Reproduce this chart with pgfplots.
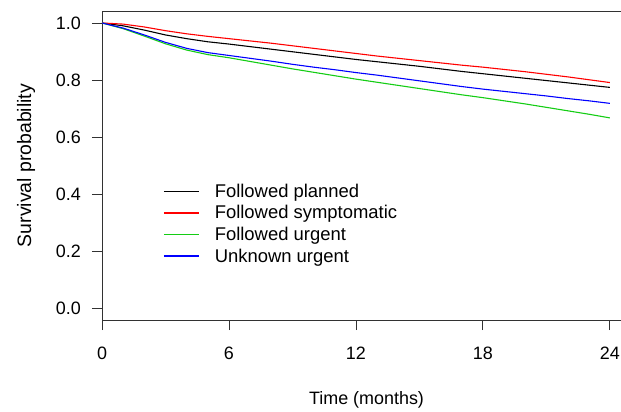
\documentclass[border=0pt]{standalone}
\usepackage{fontspec}
\setmainfont{Liberation Sans}
\usepackage{pgfplots}
\pgfplotsset{compat=1.18}
\usetikzlibrary{calc}
\definecolor{kmred}{RGB}{255,0,0}
\definecolor{kmgreen}{RGB}{20,205,20}
\definecolor{kmblue}{RGB}{0,0,255}
\definecolor{axisgray}{RGB}{50,50,50}

% Kaplan-Meier estimates, monthly
\pgfplotstableread{
t   planned symptomatic urgent unknown
0   1.000   1.000   1.000   1.000
1   0.990   0.996   0.980   0.982
2   0.975   0.986   0.954   0.958
3   0.958   0.973   0.927   0.932
4   0.945   0.962   0.905   0.911
5   0.934   0.953   0.889   0.896
6   0.926   0.945   0.878   0.886
7   0.917   0.937   0.865   0.876
8   0.908   0.929   0.852   0.866
9   0.899   0.920   0.839   0.855
10  0.890   0.911   0.827   0.845
11  0.881   0.902   0.815   0.836
12  0.872   0.893   0.803   0.826
13  0.864   0.884   0.792   0.817
14  0.856   0.876   0.781   0.807
15  0.848   0.868   0.770   0.797
16  0.839   0.860   0.759   0.787
17  0.830   0.852   0.748   0.777
18  0.822   0.845   0.738   0.768
19  0.814   0.837   0.727   0.760
20  0.806   0.829   0.716   0.752
21  0.798   0.820   0.704   0.744
22  0.790   0.811   0.692   0.735
23  0.782   0.801   0.680   0.727
24  0.774   0.791   0.667   0.718
}\kmdata

\begin{document}
\begin{tikzpicture}
\begin{axis}[
    name=ax,
    scale only axis,
    width=529bp, height=309bp,
    xmin=0, xmax=25,
    ymin=-0.042, ymax=1.042,
    xtick={0,6,12,18,24},
    ytick={0,0.2,0.4,0.6,0.8,1},
    xtick pos=bottom, ytick pos=left,
    tick align=outside,
    major tick length=10bp,
    tick style={axisgray, line width=0.8pt},
    axis line style={axisgray, line width=0.8pt},
    font=\fontsize{18}{21.6}\selectfont,
    /pgf/number format/assume math mode=true,
    yticklabel style={/pgf/number format/fixed, /pgf/number format/fixed zerofill,
        /pgf/number format/precision=1, inner sep=0pt, xshift=-11bp},
    xticklabel style={inner sep=0pt, yshift=-17bp},
    xlabel={Time (months)},
    ylabel={Survival probability},
    xlabel style={at={(axis description cs:0.5,0)}, anchor=center, yshift=-80bp},
    ylabel style={at={(axis description cs:0,0.5)}, anchor=center, yshift=76bp,
        font=\fontsize{19.5}{23}\selectfont},
    legend style={draw=none, fill=none, at={(axis description cs:0.1153,0.447)},
        anchor=north west, inner sep=0pt, row sep=2.7bp,
        font=\fontsize{18.5}{22}\selectfont,
        /tikz/every odd column/.append style={column sep=13bp}},
    legend cell align=left,
    legend image post style={line width=1.6bp},
    legend image code/.code={\draw[#1] (0bp,0bp) -- (35bp,0bp);},
]
\addplot[black, line width=1.1bp] table[x=t, y=planned] {\kmdata};
\addlegendentry{Followed planned}
\addplot[kmred, line width=1.1bp] table[x=t, y=symptomatic] {\kmdata};
\addlegendentry{Followed symptomatic}
\addplot[kmgreen, line width=1.1bp] table[x=t, y=urgent] {\kmdata};
\addlegendentry{Followed urgent}
\addplot[kmblue, line width=1.1bp] table[x=t, y=unknown] {\kmdata};
\addlegendentry{Unknown urgent}
\end{axis}
\pgfresetboundingbox
\path ($(ax.south west)+(-102bp,-92bp)$) rectangle ($(ax.north west)+(519bp,11bp)$);
\end{tikzpicture}
\end{document}
